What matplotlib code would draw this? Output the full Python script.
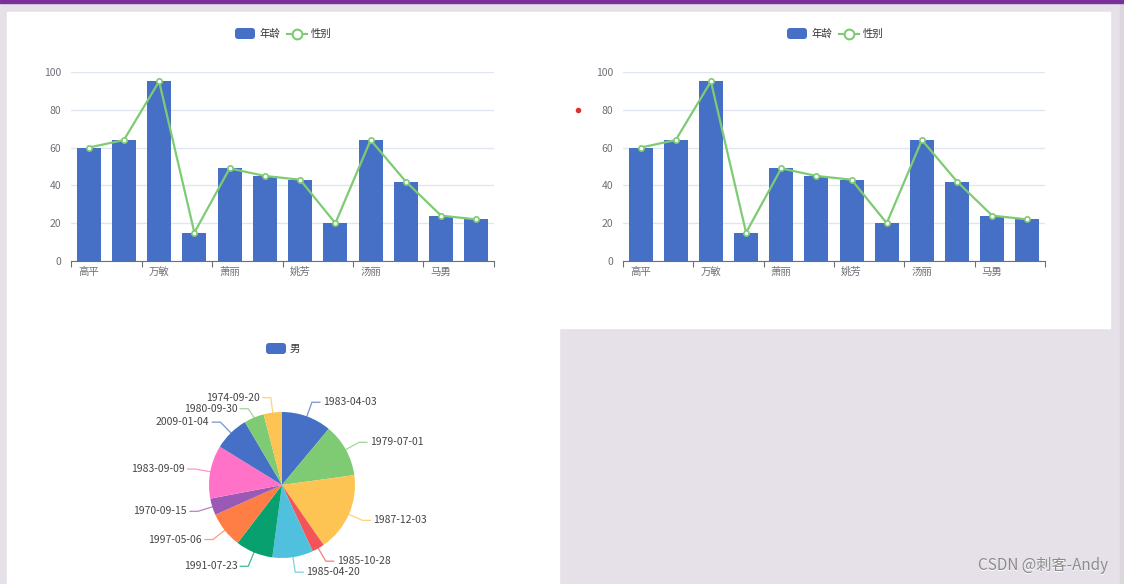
import matplotlib
matplotlib.use("Agg")
import matplotlib.pyplot as plt
from matplotlib.patches import Rectangle, FancyBboxPatch
import numpy as np

plt.rcParams['font.family'] = ['Noto Sans CJK SC', 'DejaVu Sans']

# data
names = ['高平', '', '万敏', '', '萧丽', '', '姚芳', '', '汤丽', '', '马勇', '']
ages = [60, 64, 95, 15, 49, 45, 43, 20, 64, 42, 24, 22]
sex_line = [60, 64, 95, 15, 49, 45, 43, 20, 64, 42, 24, 22]
birthdays = ['1983-04-03', '1979-07-01', '1987-12-03', '1985-10-28', '1985-04-20',
             '1991-07-23', '1997-05-06', '1970-09-15', '1983-09-09', '2009-01-04',
             '1980-09-30', '1974-09-20']
pie_legend = '男'

BLUE = '#4570c5'
GREEN = '#7ecb74'
PALETTE = ['#4570c5', '#7ecb74', '#fdc453', '#f25458', '#4fc0de',
           '#07a06e', '#ff7e45', '#9b59b6', '#ff72c8']
GRAY = '#6e7079'

W, H = 1124, 584
fig = plt.figure(figsize=(W / 100, H / 100), dpi=100)


def box(l, t, r, b):
    # pixel box -> figure fraction rect
    return [l / W, 1 - b / H, (r - l) / W, (b - t) / H]


# background / page
bg = fig.add_axes([0, 0, 1, 1], zorder=0)
bg.set_xlim(0, W)
bg.set_ylim(H, 0)
bg.axis('off')
bg.add_patch(Rectangle((0, 0), W, H, color='#e6e1e8'))
bg.add_patch(Rectangle((1120, 3), 4, H, color='#dbd6de'))
bg.add_patch(Rectangle((0, 0), W, 2.5, color='#7a2f9c'))
bg.add_patch(Rectangle((7, 12), 1103, 316, color='white'))
bg.add_patch(Rectangle((7, 328), 552, 256, color='white'))
bg.plot([578], [110], 'o', color='#e03030', ms=3)


def legend_combo(cx):
    # bar item + line item, centered around cx
    x0 = cx - 47
    bg.add_patch(FancyBboxPatch((x0, 28), 20, 11, boxstyle='round,pad=0,rounding_size=3',
                                color=BLUE, lw=0))
    bg.text(x0 + 24, 33.5, '年龄', fontsize=7.5, color='#333333', va='center')
    bg.plot([x0 + 52, x0 + 72], [33.5, 33.5], color=GREEN, lw=1.5)
    bg.plot([x0 + 62], [33.5], 'o', ms=7, mfc='white', mec=GREEN, mew=1.5)
    bg.text(x0 + 76, 33.5, '性别', fontsize=7.5, color='#333333', va='center')


def combo_chart(ax):
    x = np.arange(len(ages))
    ax.bar(x, ages, width=0.68, color=BLUE, zorder=2)
    ax.plot(x, sex_line, color=GREEN, lw=1.6, marker='o', ms=3.8,
            mfc='white', mec=GREEN, mew=1.2, zorder=3)
    ax.set_xlim(-0.5, len(ages) - 0.5)
    ax.set_ylim(0, 100)
    ax.set_facecolor('none')
    ax.set_yticks([0, 20, 40, 60, 80, 100])
    ax.yaxis.grid(True, color='#e0e6f1', lw=1, zorder=0)
    ax.set_axisbelow(True)
    for s in ['top', 'right', 'left']:
        ax.spines[s].set_visible(False)
    ax.spines['bottom'].set_color(GRAY)
    ax.tick_params(axis='y', length=0, pad=7, labelsize=7.5, labelcolor=GRAY)
    ax.set_xticks(x[::2])
    ax.set_xticklabels(names[::2])
    ax.set_xticks(np.arange(-0.5, len(ages), 2), minor=True)
    ax.tick_params(axis='x', which='major', length=0, pad=4, labelsize=7.5, labelcolor=GRAY)
    ax.tick_params(axis='x', which='minor', length=4, color=GRAY, width=0.8)


ax1 = fig.add_axes(box(71, 72, 494, 261), zorder=1)
combo_chart(ax1)
legend_combo(282)

ax2 = fig.add_axes(box(623, 72, 1045, 261), zorder=1)
combo_chart(ax2)
legend_combo(834)

# pie
R = 73.0
cx, cy = 282, 485
pl, pt, pr, pb = 7, 340, 559, 584
axp = fig.add_axes(box(pl, pt, pr, pb), zorder=1)
colors = [PALETTE[i % len(PALETTE)] for i in range(len(ages))]
wedges, _ = axp.pie(ages, colors=colors, startangle=90, counterclock=False,
                    radius=1, wedgeprops=dict(linewidth=0))
axp.axis('off')
axp.set_xlim((pl - cx) / R, (pr - cx) / R)
axp.set_ylim((cy - pb) / R, (cy - pt) / R)
axp.set_aspect('auto')

len1 = 15 / R
len2 = 8 / R
gap = 11 / R
labels = []
for w, lab, col in zip(wedges, birthdays, colors):
    mid = np.deg2rad((w.theta1 + w.theta2) / 2)
    ex, ey = np.cos(mid), np.sin(mid)
    kx, ky = (1 + len1) * ex, (1 + len1) * ey
    side = 1 if ex >= 0 else -1
    labels.append([side, ky, ex, ey, kx, lab, col])

# push overlapping labels apart, top to bottom on each side
for side in (1, -1):
    items = sorted([l for l in labels if l[0] == side], key=lambda l: -l[1])
    for a, b in zip(items, items[1:]):
        if a[1] - b[1] < gap:
            if side > 0:
                d = (gap - (a[1] - b[1])) / 2
                a[1] += d
                b[1] -= d
            else:
                b[1] = a[1] - gap

for side, ly, ex, ey, kx, lab, col in labels:
    endx = kx + side * len2
    axp.plot([ex, kx, endx], [ey, ly, ly], color=col, lw=0.9, alpha=0.75)
    axp.text(endx + side * 3 / R, ly, lab, fontsize=7.5, color='#444444', va='center',
             ha='left' if side > 0 else 'right')

# pie legend
bg.add_patch(FancyBboxPatch((266, 343), 20, 11, boxstyle='round,pad=0,rounding_size=3',
                            color=BLUE, lw=0))
bg.text(290, 348.5, pie_legend, fontsize=7.5, color='#333333', va='center')

# watermark
bg.text(1108.5, 566.5, 'CSDN @刺客-Andy', fontsize=11, color='white', ha='right', va='center')
bg.text(1108, 566, 'CSDN @刺客-Andy', fontsize=11, color='#8a8a8a', ha='right', va='center')

fig.savefig('out.png', dpi=100)
